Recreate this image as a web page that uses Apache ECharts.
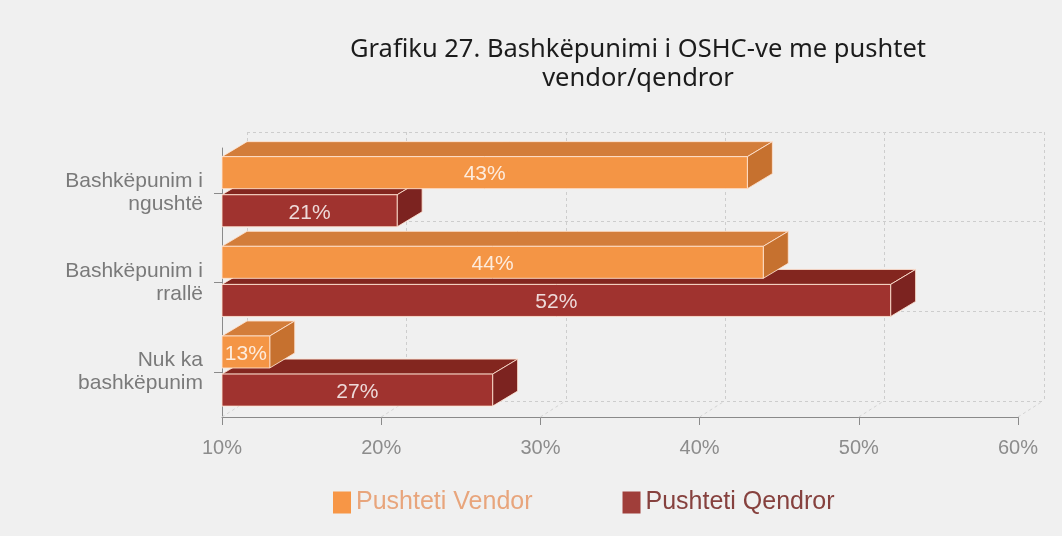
<!DOCTYPE html>
<html>
<head>
<meta charset="utf-8">
<script src="https://cdn.jsdelivr.net/npm/echarts@6/dist/echarts.min.js"></script>
<style>
  html, body { margin: 0; padding: 0; background: #f0f0f0; }
  #chart { width: 1062px; height: 536px; }
</style>
</head>
<body>
<div id="chart"></div>
<script>
var categories = ['Bashkëpunim i\nngushtë', 'Bashkëpunim i\nrrallë', 'Nuk ka\nbashkëpunim'];
var vendor = [43, 44, 13];
var qendror = [21, 52, 27];
var xTicks = [10, 20, 30, 40, 50, 60];

var AXIS_MIN = 10, AXIS_MAX = 60;
var DX = 25, DY = 15;
var labelFont = '"Liberation Sans", Arial, sans-serif';

// colours for front / top / side faces
var orange = { front: '#f49545', top: '#d37d3a', side: '#c6712f', legend: '#f79646' };
var red = { front: '#a0332f', top: '#83261f', side: '#7c2320', legend: '#a03e3a' };

function toPairs(arr) {
  return arr.map(function (v, i) { return [v, i]; });
}

// 3D bar: front rect + top face + right side face, all from the axis scale
function bar3d(col, offset) {
  return function (params, api) {
    var cat = api.value(1), v = api.value(0);
    var p0 = api.coord([AXIS_MIN, cat]);
    var p1 = api.coord([v, cat]);
    var band = api.size([0, 1])[1];
    var h = band * 0.357;
    var cy = p0[1] + band * offset;
    var t = cy - h / 2, b = cy + h / 2;
    var x0 = p0[0], x1 = p1[0];
    var edge = 'rgba(255,228,210,0.85)';
    return {
      type: 'group',
      children: [
        {
          type: 'polygon',
          shape: { points: [[x0, t], [x0 + DX, t - DY], [x1 + DX, t - DY], [x1, t]] },
          style: { fill: col.top, stroke: edge, lineWidth: 1 }
        },
        {
          type: 'polygon',
          shape: { points: [[x1, t], [x1 + DX, t - DY], [x1 + DX, b - DY], [x1, b]] },
          style: { fill: col.side, stroke: edge, lineWidth: 1 }
        },
        {
          type: 'rect',
          shape: { x: x0, y: t, width: x1 - x0, height: h },
          style: { fill: col.front, stroke: edge, lineWidth: 1 }
        },
        {
          type: 'text',
          style: {
            text: v + '%',
            x: (x0 + x1) / 2,
            y: cy + 2,
            align: 'center',
            verticalAlign: 'middle',
            fill: 'rgba(255,255,255,0.82)',
            font: '21px ' + labelFont
          }
        }
      ]
    };
  };
}

// dashed diagonals on the floor, from the front axis back to the rear wall
function floorLine(params, api) {
  var cs = params.coordSys;
  var p = api.coord([api.value(0), 0]);
  var y = cs.y + cs.height;
  return {
    type: 'line',
    shape: { x1: p[0], y1: y, x2: p[0] + DX, y2: y - 16 },
    style: { stroke: '#d3d3d3', lineWidth: 1, lineDash: [3, 3] }
  };
}

var chart = echarts.init(document.getElementById('chart'));
chart.setOption({
  backgroundColor: '#f0f0f0',
  animation: false,
  title: {
    text: 'Grafiku 27. Bashkëpunimi i OSHC-ve me pushtet\nvendor/qendror',
    left: 633,
    top: 30,
    textAlign: 'center',
    textStyle: {
      fontFamily: '"Noto Sans", sans-serif',
      fontSize: 25.5,
      fontWeight: 'normal',
      color: '#1c1c1c',
      lineHeight: 29
    }
  },
  legend: {
    left: 328,
    top: 485,
    icon: 'rect',
    itemWidth: 18,
    itemHeight: 22,
    itemGap: 90,
    data: [
      { name: 'Pushteti Vendor', textStyle: { color: '#e8a57c' } },
      { name: 'Pushteti Qendror', textStyle: { color: '#86413e' } }
    ],
    textStyle: { fontFamily: labelFont, fontSize: 25 }
  },
  grid: [
    { left: 222, right: 44, top: 148, bottom: 119 },
    { left: 247, right: 18, top: 132, bottom: 135 }
  ],
  xAxis: [
    {
      gridIndex: 0, type: 'value', min: AXIS_MIN, max: AXIS_MAX, interval: 10,
      axisLine: { show: true, lineStyle: { color: '#8a8a8a', width: 1 } },
      axisTick: { show: true, length: 8, lineStyle: { color: '#8a8a8a' } },
      axisLabel: {
        margin: 21, color: '#8c8c8c', fontSize: 20, fontFamily: labelFont,
        formatter: '{value}%'
      },
      splitLine: { show: false }
    },
    {
      gridIndex: 1, type: 'value', min: AXIS_MIN, max: AXIS_MAX, interval: 10,
      axisLine: { show: false }, axisTick: { show: false }, axisLabel: { show: false },
      splitLine: { show: true, lineStyle: { color: '#cdcdcd', type: [3, 3] } }
    }
  ],
  yAxis: [
    {
      gridIndex: 0, type: 'category', data: categories, inverse: true,
      axisLine: { show: true, lineStyle: { color: '#8a8a8a', width: 1 } },
      axisTick: { show: true, length: 8, alignWithLabel: true, lineStyle: { color: '#8a8a8a' } },
      axisLabel: {
        margin: 19, color: '#7a7a7a', fontSize: 21, fontFamily: labelFont,
        lineHeight: 23, align: 'right', padding: [8, 0, 0, 0]
      },
      splitLine: { show: false }
    },
    {
      gridIndex: 1, type: 'category', data: categories, inverse: true,
      axisLine: { show: false }, axisTick: { show: false }, axisLabel: { show: false },
      splitLine: { show: true, lineStyle: { color: '#cdcdcd', type: [3, 3] } }
    }
  ],
  series: [
    {
      name: 'floor',
      type: 'custom',
      xAxisIndex: 0, yAxisIndex: 0,
      renderItem: floorLine,
      data: xTicks.map(function (t) { return [t]; }),
      silent: true,
      z: 1
    },
    {
      name: 'Pushteti Qendror',
      type: 'custom',
      xAxisIndex: 0, yAxisIndex: 0,
      itemStyle: { color: red.legend },
      renderItem: bar3d(red, 0.2),
      encode: { x: 0, y: 1 },
      data: toPairs(qendror),
      z: 2
    },
    {
      name: 'Pushteti Vendor',
      type: 'custom',
      xAxisIndex: 0, yAxisIndex: 0,
      itemStyle: { color: orange.legend },
      renderItem: bar3d(orange, -0.225),
      encode: { x: 0, y: 1 },
      data: toPairs(vendor),
      z: 3
    }
  ]
});
</script>
</body>
</html>
